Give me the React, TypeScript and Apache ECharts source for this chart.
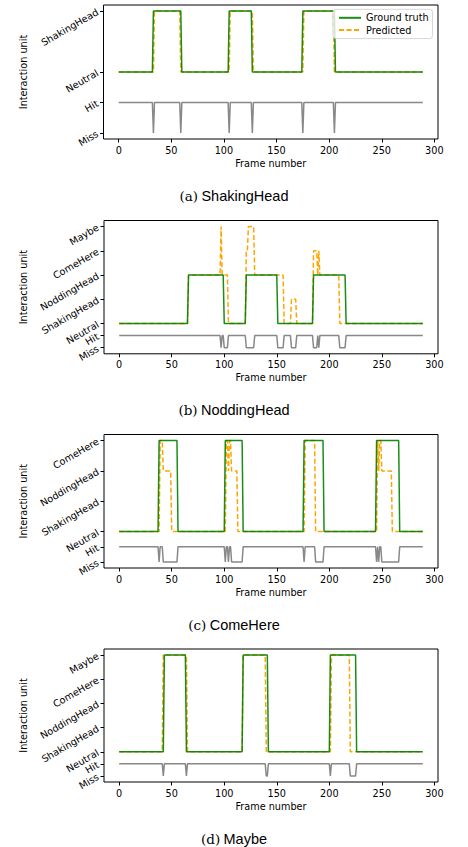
import React, { useEffect, useRef } from 'react';
import * as echarts from 'echarts';

// ---------- data ----------
const FRAME_COUNT = 290; // frames 0..289
const xTicks = [0, 50, 100, 150, 200, 250, 300];
const unitLabels = ['Neutral', 'ShakingHead', 'NoddingHead', 'ComeHere', 'Maybe'];
const hitLabel = 'Hit';
const missLabel = 'Miss';

// each run: [start frame, class index]  (0 = Neutral, 1 = ShakingHead, 2 = NoddingHead, 3 = ComeHere, 4 = Maybe)
const gtA = [[0, 0], [33, 1], [60, 0], [105, 1], [127, 0], [175, 1], [206, 0]];
const predA = [[0, 0], [34, 1], [59, 0], [106, 1], [128, 0], [176, 1], [205, 0]];

const gtB = [[0, 0], [66, 2], [100, 0], [121, 2], [151, 0], [185, 2], [216, 0]];
const predB = [[0, 0], [66, 2], [97, 4], [98, 2], [104, 0], [121, 3], [123, 4], [129, 2], [157, 0], [164, 1], [169, 0], [185, 3], [189, 2], [190, 3], [191, 2], [210, 0]];

const gtC = [[0, 0], [38, 3], [56, 0], [101, 3], [118, 0], [176, 3], [195, 0], [245, 3], [267, 0]];
const predC = [[0, 0], [39, 3], [42, 2], [50, 0], [102, 3], [104, 2], [105, 3], [107, 2], [113, 0], [177, 3], [187, 0], [246, 3], [247, 2], [248, 3], [250, 2], [260, 0]];

const gtD = [[0, 0], [43, 4], [64, 0], [118, 4], [142, 0], [201, 4], [226, 0]];
const predD = [[0, 0], [42, 4], [65, 0], [118, 4], [140, 0], [202, 4], [220, 0]];

const captionTags = ['(a)', '(b)', '(c)', '(d)'];
const captionNames = ['ShakingHead', 'NoddingHead', 'ComeHere', 'Maybe'];
const topClass = [1, 4, 3, 4];
const gtRuns = [gtA, gtB, gtC, gtD];
const predRuns = [predA, predB, predC, predD];

// ---------- layout ----------
const W = 468;
const H = 847;
const gridLayout = [
  { left: 103.5, top: 5, height: 134 },
  { left: 104, top: 220.5, height: 133.3 },
  { left: 104, top: 434.5, height: 133.5 },
  { left: 104, top: 649, height: 133 },
];
const gridRight = 438;
const captionY = [196, 410, 625, 839];
const FONT = 'DejaVu Sans';
const FS = 9.7;

function expand(runs: number[][], n: number): number[] {
  const out: number[] = [];
  let r = 0;
  for (let f = 0; f < n; f++) {
    while (r + 1 < runs.length && runs[r + 1][0] <= f) r++;
    out.push(runs[r][1]);
  }
  return out;
}

function buildOption() {
  const grids: any[] = [];
  const xAxes: any[] = [];
  const yAxes: any[] = [];
  const series: any[] = [];
  const graphics: any[] = [];

  const xmin = -0.05 * (FRAME_COUNT - 1);
  const xmax = (FRAME_COUNT - 1) * 1.05;

  for (let i = 0; i < 4; i++) {
    const g = gridLayout[i];
    grids.push({
      left: g.left,
      top: g.top,
      width: gridRight - g.left,
      height: g.height,
      show: true,
      borderColor: '#000',
      borderWidth: 1,
      backgroundColor: 'transparent',
      containLabel: false,
    });
    xAxes.push({
      type: 'value',
      gridIndex: i,
      position: 'bottom',
      min: xmin,
      max: xmax,
      name: 'Frame number',
      nameLocation: 'middle',
      nameGap: 19,
      nameTextStyle: { fontFamily: FONT, fontSize: FS, color: '#000' },
      axisLine: { show: false, onZero: false },
      splitLine: { show: false },
      axisTick: { show: true, length: 3.5, inside: false, customValues: xTicks, lineStyle: { color: '#000', width: 1 } },
      axisLabel: { show: true, customValues: xTicks, margin: 6, fontFamily: FONT, fontSize: FS, color: '#000' },
    });
    const top = topClass[i];
    const span = top + 1;
    const yTicks = [-1, -0.5];
    for (let k = 0; k <= top; k++) yTicks.push(k);
    yAxes.push({
      type: 'value',
      gridIndex: i,
      position: 'left',
      min: -1 - 0.05 * span,
      max: top + 0.05 * span,
      name: 'Interaction unit',
      nameLocation: 'middle',
      nameRotate: 90,
      nameGap: 71,
      nameTextStyle: { fontFamily: FONT, fontSize: FS, color: '#000' },
      axisLine: { show: false, onZero: false },
      splitLine: { show: false },
      axisTick: { show: true, length: 3.5, inside: false, customValues: yTicks, lineStyle: { color: '#000', width: 1 } },
      axisLabel: {
        show: true,
        customValues: yTicks,
        rotate: 30,
        margin: 6,
        fontFamily: FONT,
        fontSize: FS,
        color: '#000',
        formatter: (v: number) => {
          if (Math.abs(v + 1) < 1e-6) return missLabel;
          if (Math.abs(v + 0.5) < 1e-6) return hitLabel;
          return unitLabels[Math.round(v)] ?? '';
        },
      },
    });

    const gt = expand(gtRuns[i], FRAME_COUNT);
    const pred = expand(predRuns[i], FRAME_COUNT);
    const hit = gt.map((v, f) => (v === pred[f] ? -0.5 : -1));

    series.push({
      type: 'line',
      name: 'Predicted',
      xAxisIndex: i,
      yAxisIndex: i,
      data: pred.map((v, f) => [f, v]),
      symbol: 'none',
      showSymbol: false,
      color: '#FFA500',
      lineStyle: { color: '#FFA500', width: 1.5, type: [5, 2.5] },
      z: 2,
      silent: true,
    });
    series.push({
      type: 'line',
      name: 'Ground truth',
      xAxisIndex: i,
      yAxisIndex: i,
      data: gt.map((v, f) => [f, v]),
      symbol: 'none',
      showSymbol: false,
      color: '#008000',
      lineStyle: { color: '#008000', width: 1.5, opacity: 0.9 },
      z: 3,
      silent: true,
    });
    series.push({
      type: 'line',
      name: 'Hit/Miss ' + captionTags[i],
      xAxisIndex: i,
      yAxisIndex: i,
      data: hit.map((v, f) => [f, v]),
      symbol: 'none',
      showSymbol: false,
      color: '#888888',
      lineStyle: { color: '#888888', width: 1.5 },
      z: 2,
      silent: true,
    });

    graphics.push({
      type: 'text',
      x: W / 2,
      y: captionY[i],
      style: {
        text: '{t|' + captionTags[i] + '} {n|' + captionNames[i] + '}',
        align: 'center',
        verticalAlign: 'middle',
        rich: {
          t: { fontFamily: 'DejaVu Serif', fontSize: 13.5, fill: '#000' },
          n: { fontFamily: 'Liberation Sans', fontSize: 14.5, fill: '#000' },
        },
      },
    });
  }

  return {
    animation: false,
    grid: grids,
    xAxis: xAxes,
    yAxis: yAxes,
    series,
    graphic: graphics,
    legend: {
      data: ['Ground truth', 'Predicted'],
      orient: 'vertical',
      left: 333,
      top: 9.3,
      itemWidth: 22,
      itemHeight: 12,
      itemGap: 2.3,
      padding: [3.5, 4, 3.5, 5],
      backgroundColor: 'rgba(255,255,255,0.8)',
      borderColor: 'rgba(204,204,204,0.8)',
      borderWidth: 1,
      borderRadius: 3,
      itemStyle: { opacity: 0 },
      textStyle: { fontFamily: FONT, fontSize: FS, color: '#000' },
      selectedMode: false,
    },
  };
}

export default function App() {
  const ref = useRef<HTMLDivElement>(null);
  useEffect(() => {
    if (!ref.current) return;
    const chart = echarts.init(ref.current, undefined, { renderer: 'svg', width: W, height: H });
    chart.setOption(buildOption() as any);
    return () => chart.dispose();
  }, []);
  return (
    <div
      ref={ref}
      style={{ position: 'absolute', left: 0, top: 0, width: W, height: H, background: '#fff' }}
    />
  );
}
